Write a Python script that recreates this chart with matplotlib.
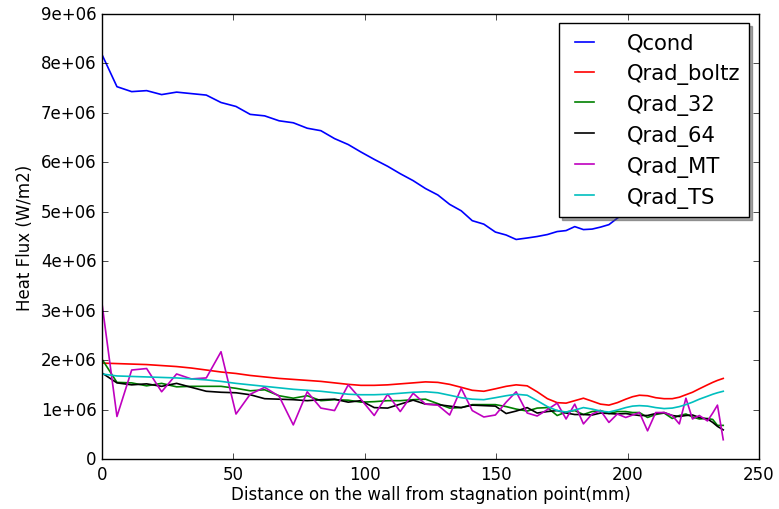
import matplotlib
matplotlib.use("Agg")
import matplotlib.pyplot as plt
from matplotlib.ticker import FormatStrFormatter, MultipleLocator

# Positions along the wall (mm)
distance = [0, 5.7, 11.3, 17.0, 22.7, 28.4, 34.0, 39.7, 45.3, 51.0,
            56.4, 61.9, 67.4, 72.8, 78.1, 83.3, 88.5, 93.7, 98.5,
            103.6, 108.7, 113.5, 118.4, 123.1, 127.8, 132.3, 136.7, 140.9, 145.3,
            149.7, 153.8, 157.6, 161.8, 165.6, 169.5, 173.2, 176.6, 179.9, 183.2,
            186.5, 189.7, 192.9, 196.1, 199.3, 201.9, 204.5, 207.6, 210.7, 213.9,
            217.0, 219.7, 222.2, 224.7, 227.3, 230.4, 232.4, 234.2, 236.4]

# Heat fluxes in units of 1e6 W/m2
q_cond = [8.18, 7.53, 7.43, 7.45, 7.37, 7.42, 7.39, 7.36, 7.21, 7.13,
          6.97, 6.94, 6.84, 6.80, 6.69, 6.64, 6.48, 6.36, 6.21,
          6.06, 5.92, 5.77, 5.63, 5.47, 5.34, 5.15, 5.02, 4.82, 4.75,
          4.59, 4.53, 4.44, 4.47, 4.50, 4.54, 4.60, 4.62, 4.70, 4.64,
          4.65, 4.69, 4.74, 4.87, 5.00, 5.10, 5.20, 5.30, 5.40, 5.48,
          5.56, 5.63, 5.70, 5.77, 5.85, 5.94, 6.00, 6.06, 6.12]

q_rad_boltz = [1.94, 1.93, 1.92, 1.91, 1.89, 1.87, 1.84, 1.80, 1.76, 1.73,
               1.69, 1.66, 1.63, 1.61, 1.59, 1.57, 1.54, 1.51, 1.49,
               1.49, 1.50, 1.52, 1.54, 1.56, 1.55, 1.51, 1.45, 1.39, 1.37,
               1.42, 1.47, 1.50, 1.48, 1.36, 1.22, 1.14, 1.13, 1.18, 1.23,
               1.17, 1.11, 1.09, 1.14, 1.21, 1.26, 1.29, 1.28, 1.24, 1.22,
               1.22, 1.25, 1.30, 1.35, 1.42, 1.50, 1.55, 1.59, 1.63]

q_rad_32 = [2.02, 1.55, 1.54, 1.48, 1.53, 1.46, 1.47, 1.47, 1.47, 1.43,
            1.38, 1.40, 1.28, 1.23, 1.28, 1.18, 1.20, 1.19, 1.15,
            1.16, 1.18, 1.18, 1.20, 1.21, 1.12, 1.03, 1.04, 1.10, 1.10,
            1.10, 1.06, 1.01, 0.97, 1.03, 1.04, 0.88, 0.95, 0.98, 0.90,
            0.96, 0.98, 0.92, 0.96, 0.96, 0.94, 0.94, 0.84, 0.90, 0.93,
            0.82, 0.88, 0.91, 0.85, 0.81, 0.82, 0.80, 0.68, 0.68]

q_rad_64 = [1.74, 1.54, 1.50, 1.52, 1.47, 1.53, 1.45, 1.37, 1.35, 1.34,
            1.30, 1.22, 1.21, 1.20, 1.18, 1.20, 1.21, 1.15, 1.18,
            1.04, 1.03, 1.11, 1.19, 1.11, 1.10, 1.07, 1.04, 1.09, 1.08,
            1.07, 0.92, 0.97, 1.04, 0.93, 0.96, 0.98, 0.93, 0.90, 0.90,
            0.89, 0.93, 0.92, 0.91, 0.92, 0.90, 0.88, 0.88, 0.92, 0.94,
            0.88, 0.86, 0.88, 0.89, 0.84, 0.81, 0.74, 0.66, 0.59]

q_rad_mt = [3.15, 0.86, 1.80, 1.83, 1.36, 1.72, 1.62, 1.64, 2.17, 0.91,
            1.31, 1.45, 1.27, 0.69, 1.36, 1.03, 0.98, 1.50, 1.21,
            0.88, 1.31, 0.96, 1.33, 1.11, 1.09, 0.89, 1.43, 0.98, 0.85,
            0.89, 1.15, 1.36, 0.93, 0.87, 1.00, 1.13, 0.81, 1.11, 0.71,
            0.91, 0.98, 0.74, 0.91, 0.84, 0.89, 0.94, 0.57, 0.94, 0.94,
            0.88, 0.71, 1.23, 0.81, 0.88, 0.77, 0.93, 1.09, 0.39]

q_rad_ts = [1.72, 1.68, 1.67, 1.66, 1.65, 1.64, 1.62, 1.60, 1.57, 1.53,
            1.50, 1.47, 1.44, 1.41, 1.39, 1.37, 1.34, 1.31, 1.30,
            1.30, 1.31, 1.33, 1.35, 1.36, 1.34, 1.29, 1.24, 1.21, 1.20,
            1.24, 1.28, 1.31, 1.29, 1.18, 1.06, 0.98, 0.95, 0.99, 1.04,
            1.01, 0.97, 0.95, 0.99, 1.04, 1.07, 1.08, 1.07, 1.04, 1.02,
            1.03, 1.06, 1.10, 1.15, 1.21, 1.27, 1.31, 1.34, 1.37]

series_labels = ["Qcond", "Qrad_boltz", "Qrad_32", "Qrad_64", "Qrad_MT", "Qrad_TS"]
series_values = [q_cond, q_rad_boltz, q_rad_32, q_rad_64, q_rad_mt, q_rad_ts]
series_colors = ["b", "r", "g", "k", "m", "c"]

plt.style.use("classic")
plt.rcParams["font.family"] = ["DejaVu Sans"]

fig = plt.figure(figsize=(7.79, 5.10), dpi=100, facecolor="white")
ax = fig.add_axes([0.1309, 0.098, 0.8434, 0.8726])

for label, vals, col in zip(series_labels, series_values, series_colors):
    ax.plot(distance, [v * 1e6 for v in vals], color=col, lw=1.2, label=label)

ax.set_xlim(0, 250)
ax.set_ylim(0, 9e6)
ax.xaxis.set_major_locator(MultipleLocator(50))
ax.yaxis.set_major_locator(MultipleLocator(1e6))
ax.yaxis.set_major_formatter(FormatStrFormatter("%g"))
ax.tick_params(labelsize=12)
ax.set_xlabel("Distance on the wall from stagnation point(mm)", fontsize=12, labelpad=2)
ax.set_ylabel("Heat Flux (W/m2)", fontsize=12)

leg = ax.legend(loc="upper right", shadow=True, fancybox=False, fontsize=15.2,
                handlelength=1.5, handletextpad=1.25, labelspacing=0.47,
                borderaxespad=0.45, borderpad=0.45, numpoints=2)
leg.get_frame().set_linewidth(1.0)

fig.savefig("out.png", dpi=100, facecolor="white")
